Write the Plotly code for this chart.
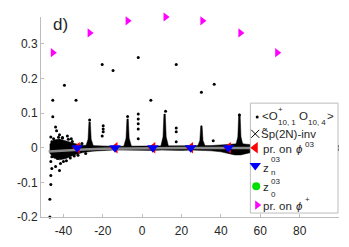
import plotly.graph_objects as go

# ---------------- data ----------------
# z_n^{03} positions (blue down triangles) and projections on phi^{03} (red)
zn_x = [-52.2, -33.0, -13.8, 5.4, 24.6, 43.8, 63.0, 82.2, 101.4]
zn_y = [0, 0, 0, 0, 0, 0, 0, 0, 0]
proj03_x = [-52.2, -33.0, -13.8, 5.4, 24.6, 43.8, 63.0, 82.2, 101.4]
proj03_y = [0, 0, 0, 0, 0, 0, 0, 0, 0]
# z_0^{03}
z0_x = [-52.0]
z0_y = [0]
# projections on phi^+ (magenta right triangles)
projp_x = [-45.4, -26.7, -7.4, 11.9, 30.6, 49.9, 68.6]
projp_y = [0.274, 0.331, 0.366, 0.377, 0.366, 0.331, 0.274]
# Sp(2N)-inv (grey line)
inv_x = [-47.5, -40, -30, -20, -10, 0, 20, 40, 60, 80, 100]
inv_y = [-0.011, -0.008, -0.005, -0.003, -0.002, -0.001, -0.001, -0.001, -0.001, -0.001, -0.001]
# dense band of <O+ O> values (envelope)
band_x = [-47, -45, -42, -39, -36, -33, -30, -25, -20, -15, -10, -5, 0, 5, 10, 15, 20, 25, 30,
          35, 40, 44, 47, 50, 53, 56, 60, 65, 70, 75, 80, 85, 90, 95, 100]
band_top = [0.01, 0.022, 0.025, 0.02, 0.014, 0.01, 0.007, 0.005, 0.005, 0.004, 0.004,
            0.004, 0.004, 0.004, 0.004, 0.005, 0.004, 0.004, 0.005, 0.006, 0.008, 0.01, 0.012, 0.012,
            0.01, 0.008, 0.007, 0.006, 0.006, 0.006, 0.006, 0.006, 0.006, 0.006, 0.006]
band_bot = [-0.015, -0.03, -0.035, -0.032, -0.025, -0.018, -0.014, -0.01, -0.008,
            -0.007, -0.007, -0.007, -0.007, -0.008, -0.007, -0.007, -0.008, -0.007, -0.007, -0.009, -0.012,
            -0.017, -0.021, -0.021, -0.017, -0.013, -0.01, -0.009, -0.008, -0.008, -0.008, -0.008,
            -0.008, -0.008, -0.008]
# spikes of the band
spike_x = [-26.7, -7.4, 11.4, 30.1, 49.4, 68.6, 87.8]
spike_top = [0.074, 0.083, 0.097, 0.063, 0.097, 0.07, 0.07]
# scattered isolated points
cloud_x = [-46.9, -46.9, -46.4, -46.4, -45.9, -46.4, -45.9, -44.0, -42.0, -41.5, -43.0, -44.5, -40.0,
           -45.4, -45.4, -43.5, -46.4, -45.0, -42.0, -40.5, -38.0, -36.0, -44.0, -45.9,
           -39.5, -33.6, -20.3, -14.8, -2.0, 4.4, 17.3, 30.1, 36.6,
           -19.8, -19.8, -19.8, -20.3, -2.0, -2.0, -2.0, -2.0, -2.0, 17.3, 17.3, 17.3, 36.1,
           49.4, -26.7, -7.4, 11.9,
           -38.5, -36.5, -34.5, -42.5, -40.5, -37.5, -35.5, -32.6, -30.6, -28.7]
cloud_y = [-0.2, -0.149, -0.106, -0.08, -0.06, -0.04, -0.026, -0.054, -0.066, -0.046, -0.031, -0.017, -0.04,
           0.089, 0.137, 0.049, 0.031, 0.026, 0.037, 0.029, 0.034, 0.026, 0.06, 0.017,
           0.18, 0.137, 0.24, 0.223, 0.26, 0.137, 0.24, 0.16, 0.183,
           0.063, 0.054, 0.046, 0.034, 0.097, 0.083, 0.069, 0.054, 0.026, 0.057, 0.046, 0.017, 0.02,
           0.094, 0.08, 0.09, 0.105,
           -0.038, -0.03, -0.024, 0.03, 0.028, 0.024, 0.018, -0.022, 0.012, -0.017]

x_ticks = [-40, -20, 0, 20, 40, 60, 80]
x_ticklabels = ["-40", "-20", "0", "20", "40", "60", "80"]
y_ticks = [-0.2, -0.1, 0, 0.1, 0.2, 0.3]
y_ticklabels = ["-0.2", "-0.1", "0", "0.1", "0.2", "0.3"]

# ---------------- figure ----------------
OFF = 8  # page body margin
W, H = 349 - OFF, 247 - OFF
L, R, T, B = 33 - OFF, 10, 17 - OFF, 28
AX = "#bdbdbd"
TXT = "#262626"
FONT = "Liberation Sans, Arial, Helvetica, sans-serif"

fig = go.Figure()

# band polygon
fig.add_trace(go.Scatter(x=band_x + band_x[::-1], y=band_top + band_bot[::-1], mode="lines",
                         fill="toself", fillcolor="black", line=dict(color="black", width=0.5),
                         hoverinfo="skip", showlegend=False))
# spikes
sx, sy = [], []
for xc, yt in zip(spike_x, spike_top):
    base = 0.003
    mid = base + 0.3 * (yt - base)
    sx += [xc - 2.0, xc - 0.8, xc - 0.35, xc + 0.35, xc + 0.8, xc + 2.0, None]
    sy += [base, mid, yt, yt, mid, base, None]
fig.add_trace(go.Scatter(x=sx, y=sy, mode="lines", fill="toself", fillcolor="black",
                         line=dict(color="black", width=0.5), hoverinfo="skip", showlegend=False))
# scattered dots
fig.add_trace(go.Scatter(x=cloud_x, y=cloud_y, mode="markers",
                         marker=dict(color="black", size=3, line=dict(width=0)),
                         cliponaxis=False, showlegend=False))
# grey invariant line
fig.add_trace(go.Scatter(x=inv_x, y=inv_y, mode="lines", line=dict(color="#8a8a8a", width=2.5),
                         showlegend=False))
# projections on phi03
fig.add_trace(go.Scatter(x=proj03_x, y=proj03_y, mode="markers",
                         marker=dict(symbol="triangle-left", color="red", size=10, line=dict(width=0)),
                         showlegend=False))
# z_n
fig.add_trace(go.Scatter(x=zn_x, y=zn_y, mode="markers",
                         marker=dict(symbol="triangle-down", color="blue", size=10, line=dict(width=0)),
                         showlegend=False))
# z_0
fig.add_trace(go.Scatter(x=z0_x, y=z0_y, mode="markers",
                         marker=dict(symbol="circle", color="#00e000", size=8, line=dict(width=0)),
                         cliponaxis=False, showlegend=False))
# projections on phi+
fig.add_trace(go.Scatter(x=projp_x, y=projp_y, mode="markers",
                         marker=dict(symbol="triangle-right", color="#ff00ff", size=8, line=dict(width=0)),
                         cliponaxis=False, showlegend=False))

# ---------------- hand-made legend on a pixel overlay ----------------
bx0, bx1, by0, by1 = 248, 338, 104, 215
fig.add_trace(go.Scatter(x=[bx0, bx1, bx1, bx0, bx0], y=[by0, by0, by1, by1, by0], mode="lines",
                         fill="toself", fillcolor="white", line=dict(color="#bdbdbd", width=1),
                         xaxis="x2", yaxis="y2", hoverinfo="skip", showlegend=False))
leg = [
    (255, 118, "circle", "black", 3),
    (253, 135, "x-thin", "black", 8),
    (253, 149, "triangle-left", "red", 10),
    (253, 167, "triangle-down", "blue", 10),
    (254, 188, "circle", "#00e000", 8),
    (255, 207, "triangle-right", "#ff00ff", 8),
]
for lx, ly, sym, col, sz in leg:
    mk = dict(symbol=sym, color=col, size=sz)
    if sym == "x-thin":
        mk["line"] = dict(color=col, width=1)
    else:
        mk["line"] = dict(width=0)
    fig.add_trace(go.Scatter(x=[lx], y=[ly], mode="markers", marker=mk, xaxis="x2", yaxis="y2",
                             hoverinfo="skip", showlegend=False))


def txt(x, y, s, size=11.5, italic=False):
    if italic:
        s = "<i>" + s + "</i>"
    fig.add_annotation(x=x, y=y, xref="x2", yref="y2", text=s, showarrow=False, borderpad=0,
                       xanchor="left", yanchor="middle", font=dict(size=size, color=TXT, family=FONT))


# row 1: <O+_{10,1} O_{10,4}>
txt(259, 117, "&lt;O")
txt(275, 110, "+", 8)
txt(275, 124, "10, 1", 8)
txt(297, 117, "O")
txt(306, 124, "10, 4", 8)
txt(326, 117, "&gt;")
# row 2
txt(258, 135, "S\u0303p(2N)-inv")
# row 3
txt(260, 150, "pr. on")
txt(294, 150, "\u03d5", 11.5, italic=True)
txt(303, 146, "03", 8)
# row 4
txt(260, 169, "z")
txt(268, 161, "03", 8)
txt(268, 174, "n", 8)
# row 5
txt(260, 189, "z")
txt(268, 183, "03", 8)
txt(268, 196, "0", 8)
# row 6
txt(260, 208, "pr. on")
txt(294, 208, "\u03d5", 11.5, italic=True)
txt(303, 201, "+", 8)

# panel label
txt(44, 25, "d)", 17)

fig.update_layout(
    width=W, height=H, margin=dict(l=L, r=R, t=T, b=B),
    plot_bgcolor="white", paper_bgcolor="white", showlegend=False,
    font=dict(family=FONT, size=12, color=TXT),
    xaxis=dict(range=[-51.4, 100], tickvals=x_ticks, ticktext=x_ticklabels, ticks="inside", ticklen=3,
               tickcolor=AX, showline=True, linecolor=AX, linewidth=1, showgrid=False, zeroline=False,
               ticklabelstandoff=3, tickfont=dict(size=12, color=TXT)),
    yaxis=dict(range=[-0.2, 0.377], tickvals=y_ticks, ticktext=y_ticklabels, ticks="inside", ticklen=3,
               tickcolor=AX, showline=True, linecolor=AX, linewidth=1, showgrid=False, zeroline=False,
               tickfont=dict(size=12, color=TXT)),
    xaxis2=dict(range=[33, 339], overlaying="x", visible=False, fixedrange=True),
    yaxis2=dict(range=[219, 17], overlaying="y", visible=False, fixedrange=True),
)

fig.write_html("out.html")
